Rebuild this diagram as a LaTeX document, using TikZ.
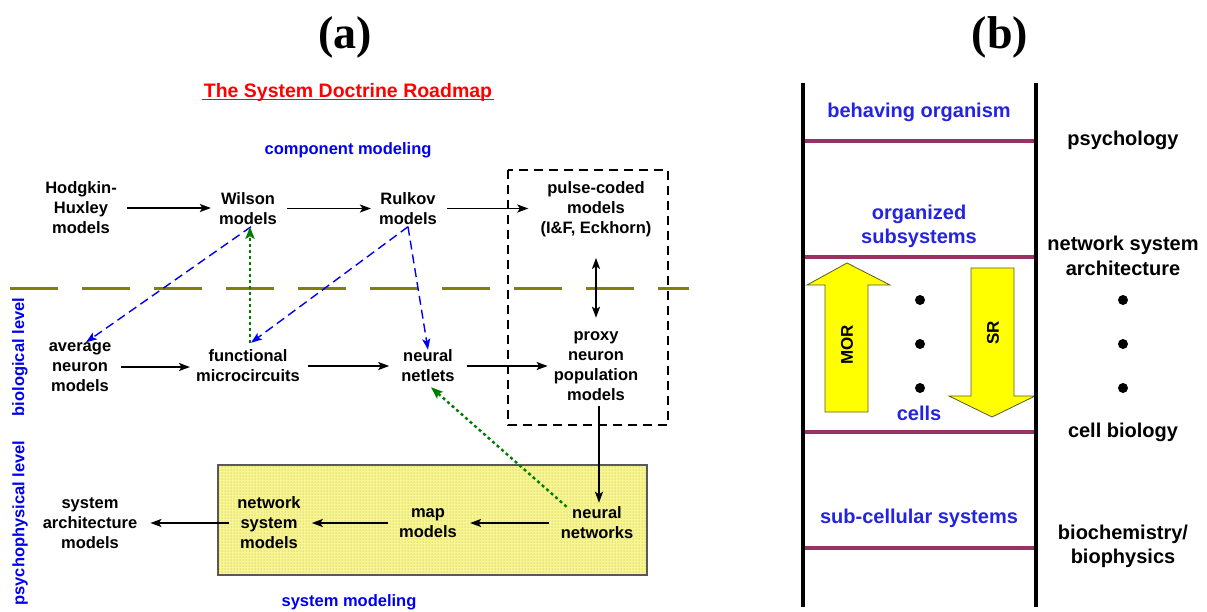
\documentclass[tikz,border=0pt]{standalone}
\usepackage{fontspec}
\setmainfont{Liberation Sans}
\newfontfamily\panelserif{Liberation Serif}
\usetikzlibrary{arrows.meta,patterns}

\definecolor{roadblue}{RGB}{0,0,240}
\definecolor{levelblue}{RGB}{35,35,225}
\definecolor{olivedash}{RGB}{128,128,10}
\definecolor{plumline}{RGB}{150,50,100}
\definecolor{backgreen}{RGB}{0,125,0}
\definecolor{boxyellow}{RGB}{249,246,140}
\definecolor{stipple}{RGB}{160,160,150}
\definecolor{arrowyellow}{RGB}{255,255,0}
\definecolor{arrowedge}{RGB}{90,90,40}

\begin{document}
\begin{tikzpicture}[x=1pt,y=-1pt,
  lbl/.style={font=\bfseries\fontsize{16.5}{20}\selectfont, align=center, inner sep=2pt},
  bluelbl/.style={lbl, text=roadblue},
  panel/.style={font=\panelserif\bfseries\fontsize{46}{50}\selectfont, inner sep=0pt},
  lvl/.style={font=\bfseries\fontsize{20}{24.5}\selectfont, align=center, inner sep=1pt, text=levelblue},
  field/.style={font=\bfseries\fontsize{20}{24.5}\selectfont, align=center, inner sep=1pt},
  tip/.style={Stealth[length=11pt,width=8pt,inset=2.5pt]},
  flow/.style={line width=1.8pt, -{Stealth[length=11pt,width=8pt,inset=2.5pt]}},
  flowboth/.style={line width=1.8pt, {Stealth[length=11pt,width=8pt,inset=2.5pt]}-{Stealth[length=11pt,width=8pt,inset=2.5pt]}},
  link/.style={roadblue, line width=1.4pt, dash pattern=on 9pt off 5pt, -{Stealth[length=11pt,width=8pt,inset=2.5pt]}},
  feedback/.style={backgreen, line width=2.4pt, dash pattern=on 3pt off 3pt, -{Stealth[length=12pt,width=9pt,inset=2.5pt]}},
  rung/.style={plumline, line width=3.5pt},
  rail/.style={black, line width=3.5pt},
  bigarrow/.style={fill=arrowyellow, draw=arrowedge, line width=0.8pt},
  dot/.style={circle, fill=black, inner sep=0pt, minimum size=10pt}
]
\useasboundingbox (0,0) rectangle (1207,611);

% ---------------- panel (a) ----------------
\node[panel] (pa) at (345,37) {(a)};

\node[lbl, text=red, font=\bfseries\fontsize{19.5}{23}\selectfont] (title) at (348,92) {The System Doctrine Roadmap};
\draw[red, line width=1.6pt] ([yshift=-2.5pt]title.base west) -- ([yshift=-2.5pt]title.base east);

\node[bluelbl] (compmod) at (348,150) {component modeling};

% system-modeling box and biological-level box
\fill[boxyellow] (218,465) rectangle (647,575);
\fill[pattern=dots, pattern color=stipple] (218,465) rectangle (647,575);
\draw[gray!70!black, line width=1.2pt] (218,465) rectangle (647,575);
\draw[black, line width=1.5pt, dash pattern=on 9pt off 6pt] (508,170) rectangle (668,425);

% level divider
\draw[olivedash, line width=3pt, dash pattern=on 48pt off 24pt] (10,288) -- (689,288);

% component row
\node[lbl] (hh) at (81,208) {Hodgkin-\\Huxley\\models};
\node[lbl] (wil) at (248,208.5) {Wilson\\models};
\node[lbl] (rul) at (408,208.5) {Rulkov\\models};
\node[lbl] (pulse) at (596,209) {pulse-coded\\models\\(I\&F, Eckhorn)};

% biological row
\node[lbl] (avg) at (80,367) {average\\neuron\\models};
\node[lbl] (func) at (248,366) {functional\\microcircuits};
\node[lbl] (net) at (428,366) {neural\\netlets};
\node[lbl] (proxy) at (596,366.5) {proxy\\neuron\\population\\models};

% system row
\node[lbl] (nn) at (597,523) {neural\\networks};
\node[lbl] (map) at (428,523) {map\\models};
\node[lbl] (nsm) at (269,523) {network\\system\\models};
\node[lbl] (sam) at (90,523) {system\\architecture\\models};

\node[bluelbl] (sysmod) at (349,602) {system modeling};
\node[bluelbl, rotate=90] (biolvl) at (20,357) {biological level};
\node[bluelbl, rotate=90] (psylvl) at (20,523) {psychophysical level};

% forward flow
\draw[flow, shorten <=8pt, shorten >=6pt] (hh.east) -- (hh.east -| wil.west);
\draw[flow, shorten <=8pt, shorten >=6pt] (wil.east) -- (wil.east -| rul.west);
\draw[flow, shorten <=8pt, shorten >=10pt] (rul.east) -- (rul.east -| pulse.west);
\draw[flow, shorten <=8pt, shorten >=4pt] (avg.east) -- (avg.east -| func.west);
\draw[flow, shorten <=6pt, shorten >=10pt] (func.east) -- (func.east -| net.west);
\draw[flow, shorten <=10pt, shorten >=4pt] (net.east) -- (net.east -| proxy.west);
\draw[flowboth, shorten <=19pt, shorten >=12pt] (pulse.south) -- (proxy.north);
\draw[flow, shorten <=3pt, shorten >=2pt] ([xshift=3pt]proxy.south) -- ([xshift=2pt]nn.north);
\draw[flow, shorten <=10pt, shorten >=11pt] (nn.west) -- (nn.west -| map.east);
\draw[flow, shorten <=9pt, shorten >=9pt] (map.west) -- (map.west -| nsm.east);
\draw[flow, shorten <=6pt, shorten >=11pt] (nsm.west) -- (nsm.west -| sam.east);

% cross-level links
\draw[link] ([xshift=3pt]wil.south) -- ([xshift=6pt, yshift=-2pt]avg.north);
\draw[link] (rul.south) -- ([xshift=3pt, yshift=5pt]func.north);
\draw[link] (rul.south) -- ([yshift=-2pt]net.north);
\draw[feedback] ([xshift=2pt, yshift=5pt]func.north) -- ([xshift=2pt]wil.south);
\draw[feedback] ([xshift=8pt, yshift=-2pt]nn.north west) -- ([xshift=3pt, yshift=-3pt]net.south);

% ---------------- panel (b) ----------------
\node[panel] (pb) at (1000,37) {(b)};

% reduction arrows
\draw[bigarrow] (825,412) -- (825,285) -- (807,285) -- (847,263) -- (890,285) -- (868,285) -- (868,412) -- cycle;
\draw[bigarrow] (971,268) -- (971,396) -- (949,396) -- (992,417) -- (1035,396) -- (1014,396) -- (1014,268) -- cycle;
\node[font=\bfseries\fontsize{17}{20}\selectfont, rotate=90] (mor) at (847,345) {MOR};
\node[font=\bfseries\fontsize{17}{20}\selectfont, rotate=90] (sr) at (993,333) {SR};

% ladder
\foreach \yy in {141,257,432,548} \draw[rung] (803,\yy) -- (1036,\yy);
\draw[rail] (803,83) -- (803,607);
\draw[rail] (1036,83) -- (1036,607);

\node[lvl] (organism) at (919,112) {behaving organism};
\node[lvl] (subsys) at (919,226.5) {organized\\subsystems};
\node[lvl] (cells) at (919,413) {cells};
\node[lvl] (subcell) at (919,518) {sub-cellular systems};

\node[dot] (d1) at (920,300) {};
\node[dot] (d2) at (920,344) {};
\node[dot] (d3) at (920,388) {};
\node[dot] (e1) at (1123,300) {};
\node[dot] (e2) at (1123,344) {};
\node[dot] (e3) at (1123,388) {};

\node[field] (psych) at (1123,140) {psychology};
\node[field] (netarch) at (1123,256) {network system\\architecture};
\node[field] (cellbio) at (1123,432) {cell biology};
\node[field] (biochem) at (1123,546.5) {biochemistry/\\biophysics};
\end{tikzpicture}
\end{document}
